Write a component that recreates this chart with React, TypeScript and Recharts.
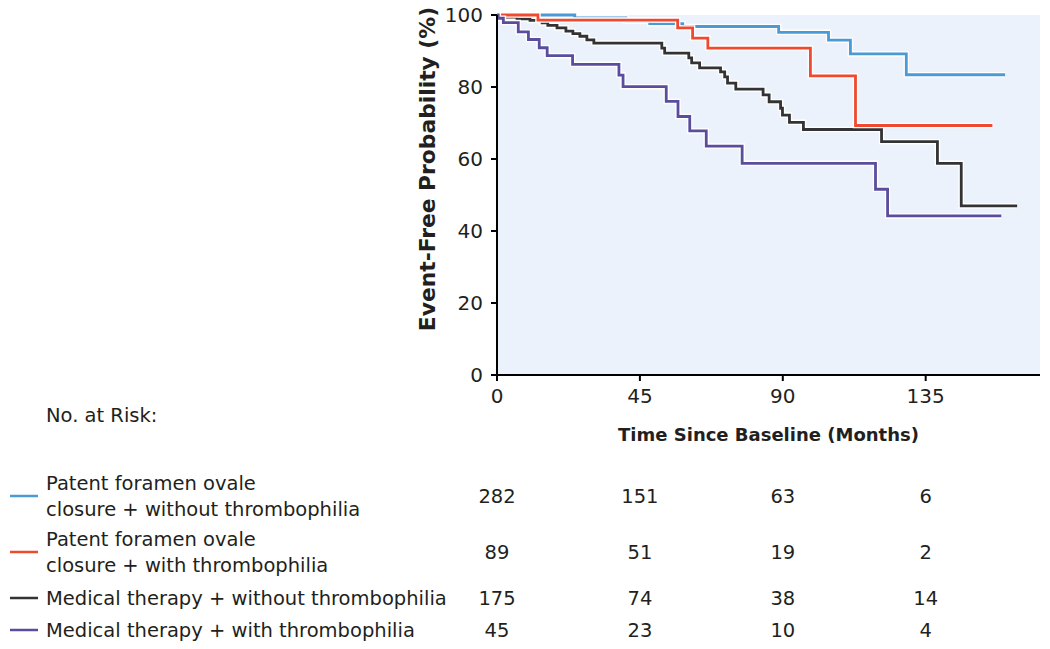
import React from "react";
import { LineChart, Line, XAxis, YAxis, CartesianGrid } from "recharts";

// ---- data ----
const xTicks = [0, 45, 90, 135];
const yTicks = [0, 20, 40, 60, 80, 100];

const pfoWithoutT = [0, 24.5, 40.6, 48.1, 58.5, 88.7, 104.4, 111.3, 128.9, 160];
const pfoWithoutS = [100, 99.2, 98.3, 97.6, 96.8, 95.2, 93.0, 89.2, 83.4, 83.4];

const pfoWithT = [0, 12.9, 56.9, 61.6, 66.4, 98.7, 112.9, 156];
const pfoWithS = [100, 98.6, 96.4, 93.6, 90.8, 83.1, 69.3, 69.3];

const medWithoutT = [0, 3, 6.3, 10.4, 14.2, 16.0, 18.9, 21.7, 23.9, 26.1, 28.3, 30.5, 51.9, 52.8, 60.4, 61.3, 63.8, 70.4, 71.7, 72.6, 75.2, 83.8, 85.7, 89.3, 89.9, 92.1, 96.5, 121.1, 138.7, 146.2, 163.8];
const medWithoutS = [100, 99.4, 98.9, 98.5, 97.8, 97.1, 96.4, 95.5, 94.8, 94.1, 93.1, 92.2, 90.8, 89.4, 88.1, 86.7, 85.3, 84.2, 82.8, 81.1, 79.4, 77.8, 75.9, 74.1, 72.2, 70.2, 68.2, 64.8, 58.8, 47.0, 47.0];

const medWithT = [0, 0.4, 2.0, 6.7, 9.9, 13.3, 15.8, 23.8, 38.4, 39.7, 53.3, 57.0, 60.7, 65.9, 77.2, 119.2, 123.0, 158.8];
const medWithS = [100, 99.1, 97.9, 95.3, 93.2, 90.9, 88.7, 86.3, 83.3, 80.1, 76.0, 71.8, 67.8, 63.6, 58.8, 51.6, 44.2, 44.2];

const riskTimes = [0, 45, 90, 135];
const riskPfoWithout = [282, 151, 63, 6];
const riskPfoWith = [89, 51, 19, 2];
const riskMedWithout = [175, 74, 38, 14];
const riskMedWith = [45, 23, 10, 4];

const labelPfoWithout = ["Patent foramen ovale", "closure + without thrombophilia"];
const labelPfoWith = ["Patent foramen ovale", "closure + with thrombophilia"];
const labelMedWithout = ["Medical therapy + without thrombophilia"];
const labelMedWith = ["Medical therapy + with thrombophilia"];

const build = (t: number[], s: number[]) => t.map((x, i) => ({ t: x, v: s[i] }));

const series = [
  { key: "pfoWithout", data: build(pfoWithoutT, pfoWithoutS), color: "#4A9AD6", risk: riskPfoWithout, label: labelPfoWithout },
  { key: "medWithout", data: build(medWithoutT, medWithoutS), color: "#333333", risk: riskMedWithout, label: labelMedWithout },
  { key: "pfoWith", data: build(pfoWithT, pfoWithS), color: "#EF4A2F", risk: riskPfoWith, label: labelPfoWith },
  { key: "medWith", data: build(medWithT, medWithS), color: "#5A4D9E", risk: riskMedWith, label: labelMedWith },
];
const tableOrder = ["pfoWithout", "pfoWith", "medWithout", "medWith"];

// ---- layout ----
const W = 1050;
const H = 450;
const FONT = "'DejaVu Sans', sans-serif";
const TXT = "#231F20";
const X_MAX = 171;
const M = { top: 15, right: 10, left: 417, bottom: 5 };
const Y_W = 80;
const X_H = 70;
const plotLeft = M.left + Y_W;
const plotWidth = W - M.right - plotLeft;
const xPix = (t: number) => plotLeft + (t / X_MAX) * plotWidth;

const rowLayout: Record<string, { lines: number[]; mid: number }> = {
  pfoWithout: { lines: [483, 509], mid: 496 },
  pfoWith: { lines: [539, 565], mid: 552 },
  medWithout: { lines: [598], mid: 598 },
  medWith: { lines: [630], mid: 630 },
};

export default function App() {
  return (
    <div style={{ position: "absolute", left: 0, top: 0, width: W, height: 649, background: "#fff", fontFamily: FONT }}>
      <LineChart width={W} height={H} margin={M}>
        <CartesianGrid fill="#EBF2FB" stroke="none" />
        <XAxis
          type="number"
          dataKey="t"
          domain={[0, X_MAX]}
          ticks={xTicks}
          height={X_H}
          axisLine={{ stroke: "#000", strokeWidth: 2 }}
          tickLine={{ stroke: "#000", strokeWidth: 2 }}
          tickSize={6}
          tickMargin={8}
          tick={{ fill: TXT, fontSize: 20, fontFamily: FONT }}
          label={{ value: "Time Since Baseline (Months)", position: "insideBottom", offset: 4, fill: TXT, fontSize: 18, fontWeight: "bold", fontFamily: FONT }}
        />
        <YAxis
          type="number"
          domain={[0, 100]}
          ticks={yTicks}
          width={Y_W}
          axisLine={{ stroke: "#000", strokeWidth: 2 }}
          tickLine={{ stroke: "#000", strokeWidth: 2 }}
          tickSize={6}
          tickMargin={8}
          tick={{ fill: TXT, fontSize: 20, fontFamily: FONT }}
        />
        {series.flatMap((s) => [
          <Line key={s.key + "-halo"} data={s.data} dataKey="v" type="stepAfter" stroke="#ffffff" strokeWidth={5.5} dot={false} activeDot={false} isAnimationActive={false} />,
          <Line key={s.key} data={s.data} dataKey="v" type="stepAfter" stroke={s.color} strokeWidth={2.8} dot={false} activeDot={false} isAnimationActive={false} />,
        ])}
      </LineChart>
      <svg width={W} height={649} style={{ position: "absolute", left: 0, top: 0, pointerEvents: "none" }} fontFamily={FONT}>
        <text x={427} y={169} transform="rotate(-90 427 169)" textAnchor="middle" dominantBaseline="central" fontSize={21.8} fontWeight="bold" fill={TXT}>Event-Free Probability (%)</text>
        <text x={46} y={415} dominantBaseline="central" fontSize={19.5} fill={TXT}>No. at Risk:</text>
        {tableOrder.map((k) => {
          const s = series.find((x) => x.key === k)!;
          const r = rowLayout[k];
          return (
            <g key={k}>
              <line x1={10} x2={38} y1={r.mid} y2={r.mid} stroke={s.color} strokeWidth={2.5} />
              {s.label.map((ln, i) => (
                <text key={i} x={46} y={r.lines[i]} dominantBaseline="central" fontSize={19.5} fill={TXT}>{ln}</text>
              ))}
              {s.risk.map((n, i) => (
                <text key={i} x={xPix(riskTimes[i])} y={r.mid} textAnchor="middle" dominantBaseline="central" fontSize={19.5} fill={TXT}>{n}</text>
              ))}
            </g>
          );
        })}
      </svg>
    </div>
  );
}
